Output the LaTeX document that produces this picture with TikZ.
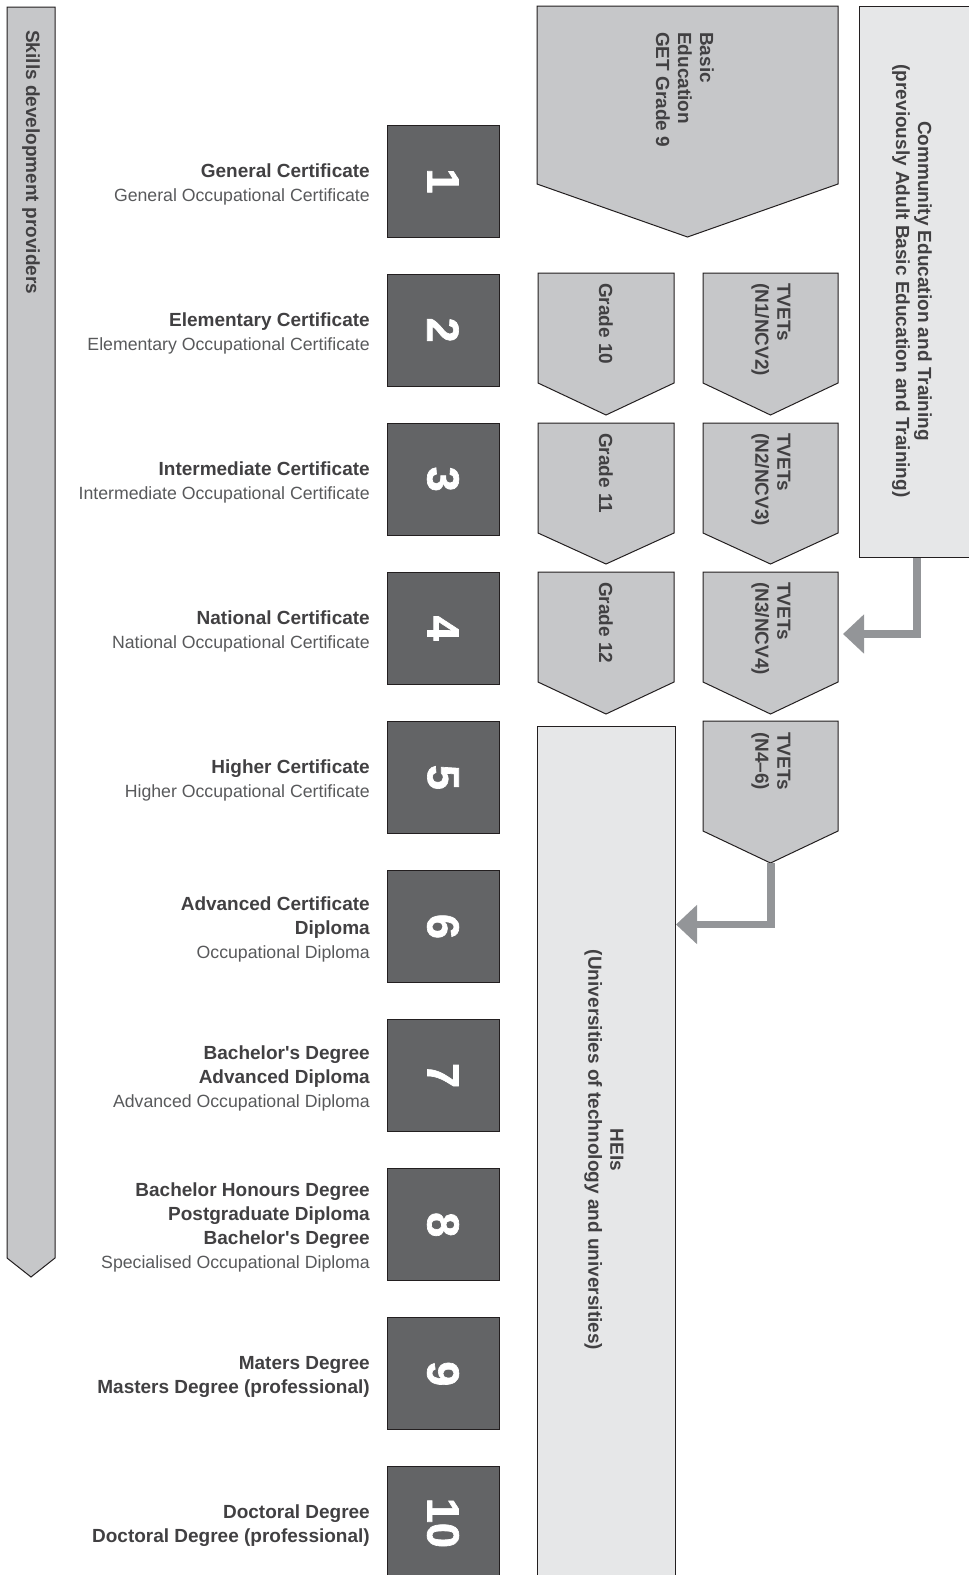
\documentclass[tikz,border=0pt]{standalone}
\usepackage{fontspec}
\setmainfont{Liberation Sans}
\newfontfamily\numfont{Liberation Sans}[UprightFont={* Bold}, FakeBold=1.5]
\usetikzlibrary{arrows.meta}
\definecolor{chevfill}{HTML}{C6C7C9}
\definecolor{lightfill}{HTML}{E6E7E8}
\definecolor{numfill}{HTML}{636466}
\definecolor{arrowc}{HTML}{939598}
\definecolor{txtdark}{HTML}{414042}
\definecolor{txtreg}{HTML}{58595B}
\definecolor{edgec}{HTML}{231F20}
\newcommand{\levB}{\bfseries\color{txtdark}\fontsize{19}{24}\selectfont}
\newcommand{\levR}{\mdseries\color{txtreg}\fontsize{17.7}{24}\selectfont}
\begin{document}
\begin{tikzpicture}[x=1pt,y=-1pt,
  chev/.style={draw=edgec, line width=1pt, fill=chevfill, line join=miter},
  panel/.style={draw=edgec, line width=1pt, fill=lightfill},
  numbox/.style={draw=edgec, line width=1pt, fill=numfill, minimum width=112pt, minimum height=112pt, inner sep=0pt, text=white, font=\numfont\fontsize{45}{45}\selectfont, rotate=-90},
  lvltext/.style={anchor=east, align=right, inner sep=0pt, font=\fontsize{19}{24}\selectfont},
  vtext/.style={rotate=-90, inner sep=0pt, text=txtdark, font=\bfseries\fontsize{19}{22}\selectfont},
  flow/.style={draw=arrowc, line width=7.5pt, -{Triangle[length=21pt,width=38pt]}}]
\useasboundingbox (0,0) rectangle (969,1575);

% Skills development providers
\draw[chev] (7,7) -- (55,7) -- (55,1258) -- (31,1277) -- (7,1258) -- cycle;
\node[vtext, anchor=west] (skills) at (31,30) {Skills development providers};

% Basic education
\draw[chev] (537,6) -- (838,6) -- (838,184) -- (687.5,237) -- (537,184) -- cycle;
\node[vtext, anchor=west, align=left] (basic) at (685,32) {Basic\\Education\\GET Grade 9};

% Grades
\draw[chev] (538,273) -- (674,273) -- (674,383) -- (606,415) -- (538,383) -- cycle;
\node[vtext, anchor=west] (g10) at (606,283) {Grade 10};
\draw[chev] (538,423) -- (674,423) -- (674,533) -- (606,564) -- (538,533) -- cycle;
\node[vtext, anchor=west] (g11) at (606,433) {Grade 11};
\draw[chev] (538,572) -- (674,572) -- (674,682) -- (606,714) -- (538,682) -- cycle;
\node[vtext, anchor=west] (g12) at (606,582) {Grade 12};

% TVETs
\draw[chev] (703,273) -- (838,273) -- (838,383) -- (770.5,415) -- (703,383) -- cycle;
\node[vtext, anchor=west, align=left] (tv1) at (771,283) {TVETs\\(N1/NCV2)};
\draw[chev] (703,423) -- (838,423) -- (838,533) -- (770.5,564) -- (703,533) -- cycle;
\node[vtext, anchor=west, align=left] (tv2) at (771,433) {TVETs\\(N2/NCV3)};
\draw[chev] (703,572) -- (838,572) -- (838,682) -- (770.5,714) -- (703,682) -- cycle;
\node[vtext, anchor=west, align=left] (tv3) at (771,582) {TVETs\\(N3/NCV4)};
\draw[chev] (703,721) -- (838,721) -- (838,831) -- (770.5,863) -- (703,831) -- cycle;
\node[vtext, anchor=west, align=left] (tv4) at (771,732) {TVETs\\(N4–6)};

% Community education
\draw[panel] (859,6) rectangle (975,557);
\node[vtext, align=center] (comm) at (912,281) {Community Education and Training\\(previously Adult Basic Education and Training)};

% HEIs
\draw[panel] (537,726) rectangle (675,1590);
\node[vtext, align=center] (hei) at (604,1150) {HEIs\\(Universities of technology and universities)};

% Connectors
\coordinate (commOut) at (917,558);
\coordinate (tv3In) at (843,634);
\draw[flow] (commOut) |- (tv3In);
\coordinate (tv4Out) at (771,863);
\coordinate (heiIn) at (676,924.5);
\draw[flow] (tv4Out) |- (heiIn);

% Level boxes
\node[numbox] (n1) at (443,181) {1};
\node[numbox] (n2) at (443,330.1) {2};
\node[numbox] (n3) at (443,479.2) {3};
\node[numbox] (n4) at (443,628.3) {4};
\node[numbox] (n5) at (443,777.4) {5};
\node[numbox] (n6) at (443,926.5) {6};
\node[numbox] (n7) at (443,1075.6) {7};
\node[numbox] (n8) at (443,1224.7) {8};
\node[numbox] (n9) at (443,1373.8) {9};
\node[numbox] (n10) at (443,1522.9) {10};

% Level labels
\node[lvltext] (l1) at (370,184) {\levB General Certificate\\\levR General Occupational Certificate};
\node[lvltext] (l2) at (370,333.1) {\levB Elementary Certificate\\\levR Elementary Occupational Certificate};
\node[lvltext] (l3) at (370,482.2) {\levB Intermediate Certificate\\\levR Intermediate Occupational Certificate};
\node[lvltext] (l4) at (370,631.3) {\levB National Certificate\\\levR National Occupational Certificate};
\node[lvltext] (l5) at (370,780.4) {\levB Higher Certificate\\\levR Higher Occupational Certificate};
\node[lvltext] (l6) at (370,929.5) {\levB Advanced Certificate\\\levB Diploma\\\levR Occupational Diploma};
\node[lvltext] (l7) at (370,1078.6) {\levB Bachelor\textquotesingle s Degree\\\levB Advanced Diploma\\\levR Advanced Occupational Diploma};
\node[lvltext] (l8) at (370,1227.7) {\levB Bachelor Honours Degree\\\levB Postgraduate Diploma\\\levB Bachelor\textquotesingle s Degree\\\levR Specialised Occupational Diploma};
\node[lvltext] (l9) at (370,1376.8) {\levB Maters Degree\\\levB Masters Degree (professional)};
\node[lvltext] (l10) at (370,1525.9) {\levB Doctoral Degree\\\levB Doctoral Degree (professional)};
\end{tikzpicture}
\end{document}
